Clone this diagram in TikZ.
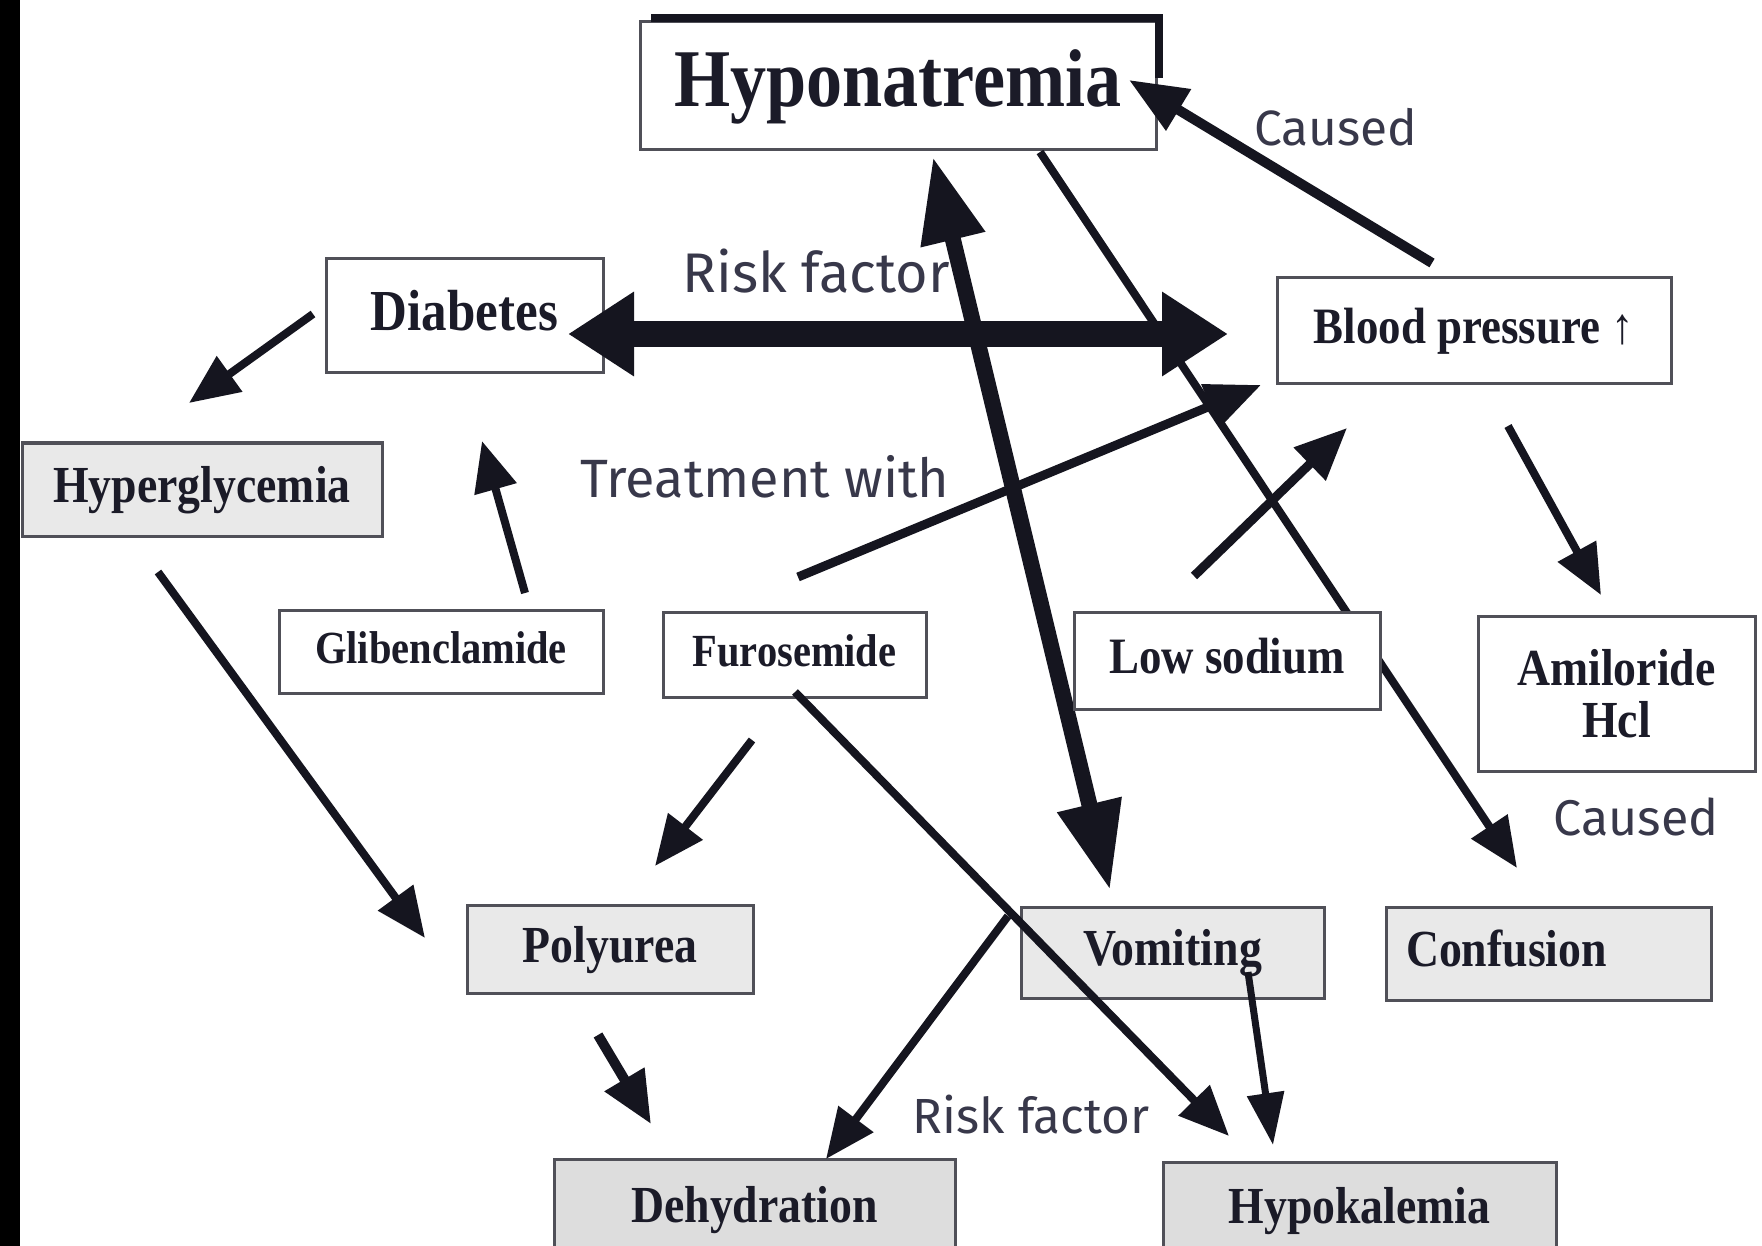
\documentclass[tikz,border=0pt]{standalone}
\usepackage{fontspec}
\usepackage{graphicx}
\setmainfont{Liberation Serif}
\newfontfamily\boxfont{Liberation Serif}[FakeStretch=0.88]
\newfontfamily\labfont{Fira Sans}
\usetikzlibrary{arrows.meta}
\definecolor{ink}{HTML}{15151F}
\definecolor{txt}{HTML}{1B1B28}
\definecolor{boxline}{HTML}{505058}
\definecolor{labc}{HTML}{38384A}
\definecolor{gfill}{HTML}{E9E9E9}
\definecolor{gfilld}{HTML}{DDDDDD}
\tikzset{
  nbox/.style={draw=boxline, line width=3pt, fill=white, inner sep=0pt, text=txt, align=center},
  gbox/.style={nbox, fill=gfill},
  dbox/.style={nbox, fill=gfilld},
  fs/.style={font=\boxfont\bfseries\fontsize{#1}{#1}\selectfont},
  lab/.style={text=labc, inner sep=0pt, anchor=base},
  ed/.style={draw=ink, line width=8pt, -{Triangle[length=50pt,width=42pt]}},
}
\begin{document}
\begin{tikzpicture}[x=1pt,y=-1pt]
\useasboundingbox (0,0) rectangle (1762,1246);
\clip (0,0) rectangle (1762,1246);
\fill[white] (0,0) rectangle (1762,1246);
\fill[black] (0,0) rectangle (20,1246);

% nodes
\node[nbox, fs=82, minimum width=516pt, minimum height=128pt, text height=57.4pt, text depth=16.4pt] (hypo) at (898,86) {Hyponatremia};
\draw[draw=ink, line width=8pt] (651,18) -- (1159,18) -- (1159,78);
\node[nbox, fs=58, minimum width=277pt, minimum height=114pt, text height=40.6pt, text depth=11.6pt] (diab) at (464.5,316) {Diabetes};
\node[nbox, fs=51, minimum width=394pt, minimum height=106pt, text height=35.7pt, text depth=10.2pt] (bp) at (1474,331) {Blood pressure ↑};
\node[gbox, fs=52, minimum width=360pt, minimum height=93pt, text height=36.4pt, text depth=10.4pt] (hyper) at (202,489.5) {Hyperglycemia};
\node[nbox, fs=46, minimum width=324pt, minimum height=83pt, text height=32.2pt, text depth=9.2pt] (glib) at (441,651.5) {Glibenclamide};
\node[nbox, fs=46, minimum width=263pt, minimum height=85pt, text height=32.2pt, text depth=9.2pt] (furo) at (794.5,654.5) {Furosemide};
\node[nbox, fs=52, minimum width=277pt, minimum height=155pt] (amil) at (1616.5,693.5) {\fontsize{52}{66}\selectfont Amiloride\\Hcl};
\node[gbox, fs=52, minimum width=286pt, minimum height=88pt, text height=36.4pt, text depth=10.4pt] (poly) at (610,949) {Polyurea};
\node[gbox, fs=52, minimum width=303pt, minimum height=91pt, text height=36.4pt, text depth=10.4pt] (vomit) at (1172.5,952.5) {Vomiting};
\node[gbox, fs=52, minimum width=325pt, minimum height=93pt, text height=36.4pt, text depth=10.4pt] (conf) at (1548.5,953.5) {Confusion\hspace{84pt}};
\node[dbox, fs=52, minimum width=401pt, minimum height=101pt, text height=36.4pt, text depth=10.4pt] (dehyd) at (754.5,1209.5) {Dehydration};
\node[dbox, fs=52, minimum width=393pt, minimum height=97pt, text height=36.4pt, text depth=10.4pt] (hypok) at (1359.5,1210.5) {Hypokalemia};

% labels
\node[lab] (lcausedA) at (1336,146) {\resizebox{163pt}{!}{\labfont Caused}};
\node[lab] (lriskA) at (816,293) {\resizebox{267pt}{!}{\labfont Risk factor}};
\node[lab] (ltreat) at (765,497) {\resizebox{369pt}{!}{\labfont Treatment with}};
\node[lab] (lcausedB) at (1636,835) {\resizebox{165pt}{!}{\labfont Caused}};
\node[lab] (lriskB) at (1031,1133) {\resizebox{236pt}{!}{\labfont Risk factor}};

% connector end points
\coordinate (dbR) at (568,334);   \coordinate (bpL) at (1228,334);
\coordinate (hyB) at (933,157);   \coordinate (voT) at (1110,890);
\coordinate (hyS) at (1040,152);  \coordinate (coT) at (1517,868);
\coordinate (bpS) at (1432,263);  \coordinate (hyR) at (1129,80);
\coordinate (dbS) at (313,314);   \coordinate (hgT) at (189,403);
\coordinate (hgS) at (158,572);   \coordinate (poT) at (425,938);
\coordinate (glS) at (525,593);   \coordinate (dbT) at (482,441);
\coordinate (fuS) at (798,577);   \coordinate (bpT) at (1261,385);
\coordinate (lsS) at (1194,576);  \coordinate (bpT2) at (1347,428);
\coordinate (bpS2) at (1508,426); \coordinate (amT) at (1601,595);
\coordinate (fuS2) at (752,740);  \coordinate (poT2) at (655,866);
\coordinate (fuS3) at (795,692);  \coordinate (hkT) at (1229,1136);
\coordinate (poS) at (598,1035);  \coordinate (deT) at (651,1124);
\coordinate (voS) at (1008,916);  \coordinate (deT2) at (826,1159);
\coordinate (voS2) at (1248,972); \coordinate (hkT2) at (1273,1145);

% connectors
\draw[ed, line width=26pt, {Triangle[length=66pt,width=80pt]}-{Triangle[length=66pt,width=80pt]}] (dbR) -- (bpL);
\draw[ed, line width=8pt] (hyS) -- (coT);
\draw[ed, line width=16pt, {Triangle[length=85pt,width=62pt]}-{Triangle[length=88pt,width=62pt]}] (hyB) -- (voT);
\draw[ed, line width=10pt, -{Triangle[length=58pt,width=46pt]}] (bpS) -- (hyR);
\draw[ed] (dbS) -- (hgT);
\draw[ed] (hgS) -- (poT);
\draw[ed] (glS) -- (dbT);
\draw[ed, line width=9pt, -{Triangle[length=55pt,width=45pt]}] (fuS) -- (bpT);
\draw[ed, line width=9pt, -{Triangle[length=52pt,width=44pt]}] (lsS) -- (bpT2);
\draw[ed] (bpS2) -- (amT);
\draw[ed] (fuS2) -- (poT2);
\draw[ed] (fuS3) -- (hkT);
\draw[ed, line width=10pt, -{Triangle[length=52pt,width=44pt]}] (poS) -- (deT);
\draw[ed] (voS) -- (deT2);
\draw[ed, line width=7pt, -{Triangle[length=52pt,width=36pt]}] (voS2) -- (hkT2);

% Low sodium box lies over the lines that cross it
\node[nbox, fs=51, minimum width=306pt, minimum height=97pt, text height=35.7pt, text depth=10.2pt] (lowna) at (1227,661) {Low sodium};
\end{tikzpicture}
\end{document}
